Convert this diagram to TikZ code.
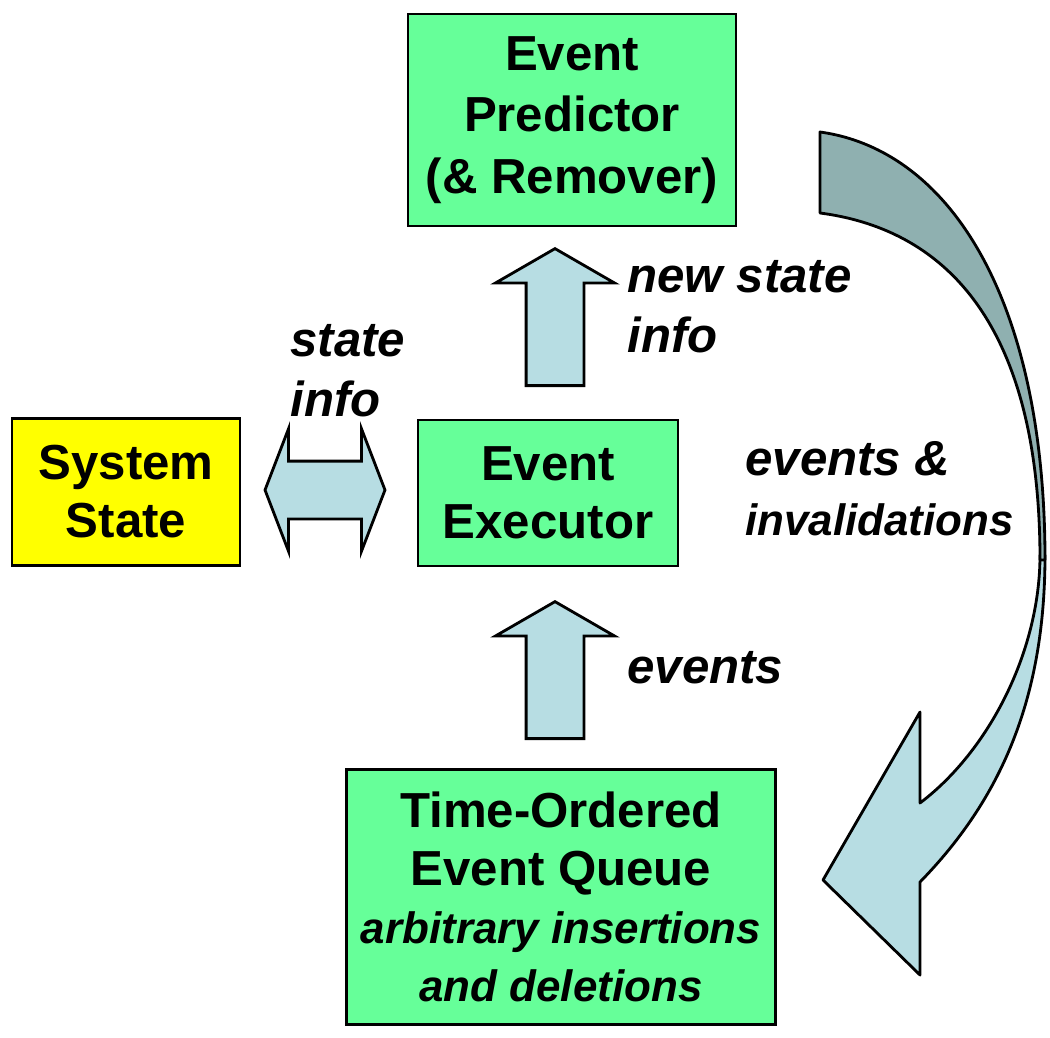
\documentclass[tikz,border=0pt]{standalone}
\usepackage{fontspec}
\setmainfont{Liberation Sans}
\usetikzlibrary{shapes.arrows}
\definecolor{boxgreen}{RGB}{102,255,153}
\definecolor{boxyellow}{RGB}{255,255,0}
\definecolor{arrowblue}{RGB}{183,221,227}
\definecolor{arrowgrey}{RGB}{143,176,176}
\newcommand{\subtxt}[1]{{\fontsize{25}{30}\selectfont\itshape #1}}

\begin{document}
\begin{tikzpicture}[x=0.02cm,y=-0.02cm,
  box/.style={draw=black, line width=1.6pt, align=center, inner sep=0pt,
    font=\fontsize{28}{33}\selectfont\bfseries},
  lab/.style={align=left, inner sep=0pt, anchor=base west,
    font=\fontsize{28}{34}\selectfont\bfseries\itshape},
  upblock/.style={single arrow, draw=black, line width=1.6pt, fill=arrowblue,
    rotate=90, anchor=tail, inner sep=0.55cm, minimum height=2.74cm,
    single arrow head extend=0.61cm, single arrow tip angle=120},
  twoblock/.style={double arrow, draw=black, line width=1.6pt, fill=arrowblue,
    inner sep=0.55cm, minimum height=2.4cm,
    double arrow head extend=0.65cm, double arrow tip angle=138},
  ribbon/.style={draw=black, line width=1.6pt, line join=round},
]
\useasboundingbox (0,0) rectangle (1050,1037);
% ---------------- boxes ----------------
\node[box, fill=boxgreen, minimum width=6.56cm, minimum height=4.24cm,
  font=\fontsize{28}{35}\selectfont\bfseries] (pred) at (572,120) {Event\\Predictor\\(\& Remover)};
\node[box, fill=boxgreen, minimum width=5.2cm, minimum height=2.92cm] (exec) at (548,493) {Event\\Executor};
\node[box, fill=boxyellow, minimum width=4.56cm, minimum height=2.94cm] (sys) at (126,492) {System\\State};
\node[box, fill=boxgreen, minimum width=8.58cm, minimum height=5.1cm] (queue) at (561,897)
  {Time-Ordered\\Event Queue\\\subtxt{arbitrary insertions}\\\subtxt{and deletions}};
% ---------------- block arrows ----------------
\node[upblock] (toPred) at (555,387) {};
\node[upblock] (toExec) at (555,740) {};
\node[twoblock] (swap) at (325,490) {};
% labels sit on the baseline of their last line
\node[lab] (newinfo) at (627,352) {new state\\info};
\node[lab] (stinfo) at (290,416) {state\\info};
\node[lab] (evlab) at (627,683) {events};
\node[lab] (invlab) at (745,535) {events \&\\{\fontsize{25}{34}\selectfont invalidations}};
% ---------------- feedback ribbon ----------------
\draw[ribbon, fill=arrowblue] (1045,555) .. controls (1045,700) and (1000,800) .. (920,882)
  -- (920,975) -- (823,880) -- (920,712) -- (920,803)
  .. controls (990,750) and (1040,650) .. (1040,555) -- cycle;
\draw[ribbon, fill=arrowgrey] (820,132) .. controls (950,150) and (1045,300) .. (1045,560)
  -- (1040,560) .. controls (1040,330) and (950,230) .. (820,213) -- cycle;
\end{tikzpicture}
\end{document}
